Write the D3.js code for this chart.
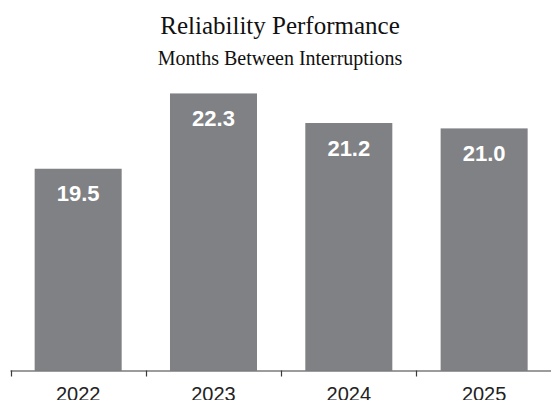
<!DOCTYPE html>
<html>
<head>
<meta charset="utf-8">
<script src="https://cdn.jsdelivr.net/npm/d3@7"></script>
<style>
  html, body { margin: 0; padding: 0; background: #ffffff; }
  svg { display: block; }
</style>
</head>
<body>
<svg id="chart" width="551" height="400"></svg>
<script>
const years = ["2022", "2023", "2024", "2025"];
const months = [19.5, 22.3, 21.2, 21.0];
const valueLabels = ["19.5", "22.3", "21.2", "21.0"];
const title = "Reliability Performance";
const subtitle = "Months Between Interruptions";

const svg = d3.select("#chart");
const W = 551, H = 400;
const baseY = 370.5;

const x = d3.scaleBand().domain(years).range([10.5, 551.8]).paddingInner(0.357).paddingOuter(0.1785);
const y = d3.scaleLinear().domain([12, 24]).range([baseY, baseY - 12 * 26.9]);

svg.append("text")
  .attr("x", 280).attr("y", 34)
  .attr("text-anchor", "middle")
  .style("font-family", "'Liberation Serif', 'Times New Roman', serif")
  .style("font-size", "25px").style("fill", "#111")
  .text(title);

svg.append("text")
  .attr("x", 280).attr("y", 64.5)
  .attr("text-anchor", "middle")
  .style("font-family", "'Liberation Serif', 'Times New Roman', serif")
  .style("font-size", "20px").style("fill", "#111")
  .text(subtitle);

const data = years.map((yr, i) => ({ yr, v: months[i], label: valueLabels[i] }));

svg.selectAll("rect.bar").data(data).enter().append("rect")
  .attr("class", "bar")
  .attr("x", d => x(d.yr))
  .attr("width", x.bandwidth())
  .attr("y", d => y(d.v))
  .attr("height", d => baseY - y(d.v))
  .attr("fill", "#808184");

svg.selectAll("text.val").data(data).enter().append("text")
  .attr("class", "val")
  .attr("x", d => x(d.yr) + x.bandwidth() / 2)
  .attr("y", d => y(d.v) + 32.5)
  .attr("text-anchor", "middle")
  .style("font-family", "'Liberation Sans', Arial, sans-serif")
  .style("font-weight", "bold")
  .style("font-size", "22px")
  .style("fill", "#ffffff")
  .text(d => d.label);

// axis
const step = x.step();
const gap = step * x.paddingInner() / 2;
const tickXs = years.map(yr => x(yr) - gap).concat([x(years[years.length - 1]) + x.bandwidth() + gap]);

svg.append("line")
  .attr("x1", 10.5).attr("x2", W)
  .attr("y1", baseY + 0.5).attr("y2", baseY + 0.5)
  .attr("stroke", "#3a3a3a").attr("stroke-width", 1.2);

svg.selectAll("line.tick").data(tickXs).enter().append("line")
  .attr("class", "tick")
  .attr("x1", d => Math.round(d) + 0.5).attr("x2", d => Math.round(d) + 0.5)
  .attr("y1", baseY).attr("y2", baseY + 6)
  .attr("stroke", "#3a3a3a").attr("stroke-width", 1.2);

svg.selectAll("text.yr").data(years).enter().append("text")
  .attr("class", "yr")
  .attr("x", d => x(d) + x.bandwidth() / 2)
  .attr("y", 400.5)
  .attr("text-anchor", "middle")
  .style("font-family", "'Liberation Sans', Arial, sans-serif")
  .style("font-size", "20px")
  .style("fill", "#222")
  .text(d => d);
</script>
</body>
</html>
